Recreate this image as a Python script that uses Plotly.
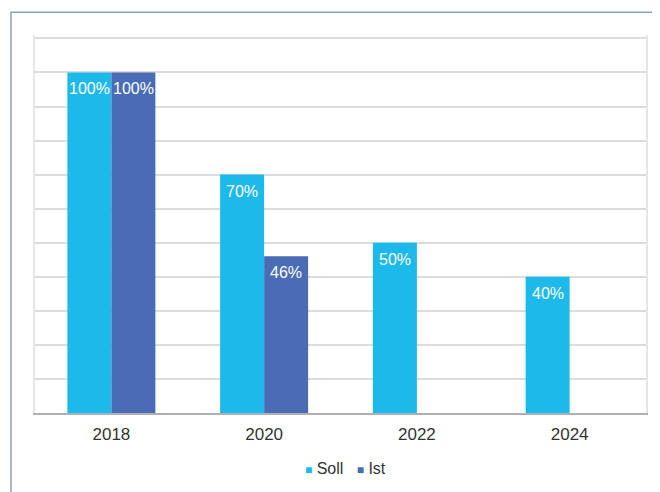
import plotly.graph_objects as go

years = ["2018", "2020", "2022", "2024"]
series_names = ["Soll", "Ist"]
soll = [1.00, 0.70, 0.50, 0.40]
ist = [1.00, 0.46, None, None]
colors = ["#1cb9eb", "#4a6cb6"]

FONT = "Liberation Sans, Arial"
fig = go.Figure()
for name, vals, col in zip(series_names, [soll, ist], colors):
    fig.add_trace(go.Bar(name=name, x=years, y=vals, marker_color=col,
                         marker_line_width=0, showlegend=False))

# value labels inside the top of each bar (x as category index)
annotations = []
for k, vals in enumerate([soll, ist]):
    for i, v in enumerate(vals):
        if v is None:
            continue
        annotations.append(dict(x=i, y=v, xref="x", yref="y", text=f"{round(v*100)}%",
                                showarrow=False, yanchor="top", xanchor="center",
                                xshift=-22 if k == 0 else 22, yshift=-6,
                                font=dict(color="white", size=16, family=FONT)))

# legend line
legend_txt = "   ".join(
    f"<span style='color:{c};font-size:12px'>■</span> {n}" for n, c in zip(series_names, colors))
annotations.append(dict(x=0.5, y=-0.147, xref="paper", yref="paper", text=legend_txt,
                        showarrow=False, xanchor="center", yanchor="middle", xshift=5,
                        font=dict(size=16, color="#333333", family=FONT)))

# page body has 8px margin -> compensate
fig.update_layout(
    width=652, height=484,
    margin=dict(l=27, r=14, t=27, b=78.7, autoexpand=False),
    paper_bgcolor="white", plot_bgcolor="white",
    barmode="group", bargap=0.424, bargroupgap=0,
    font=dict(family=FONT, color="#333333"),
    showlegend=False,
    annotations=annotations,
    xaxis=dict(type="category", categoryorder="array", categoryarray=years,
               range=[-0.5, len(years) - 0.5],
               showline=True, linecolor="#b0b0b0", linewidth=1.5, ticks="",
               ticklabelstandoff=5,
               tickfont=dict(size=17, color="#333333"), showgrid=False),
    yaxis=dict(range=[0, 1.11], dtick=0.1, showticklabels=False, gridcolor="#dcdcdc",
               gridwidth=1.5, zeroline=False, showline=True, mirror=True,
               linecolor="#e6e6e6", linewidth=1.5),
    shapes=[dict(type="rect", xref="paper", yref="paper",
                 x0=-0.0393, x1=1.2, y0=-0.5, y1=1.0603,
                 line=dict(color="#8ea3b4", width=1.5), fillcolor="rgba(0,0,0,0)", layer="below")],
)

fig.write_html("out.html")
